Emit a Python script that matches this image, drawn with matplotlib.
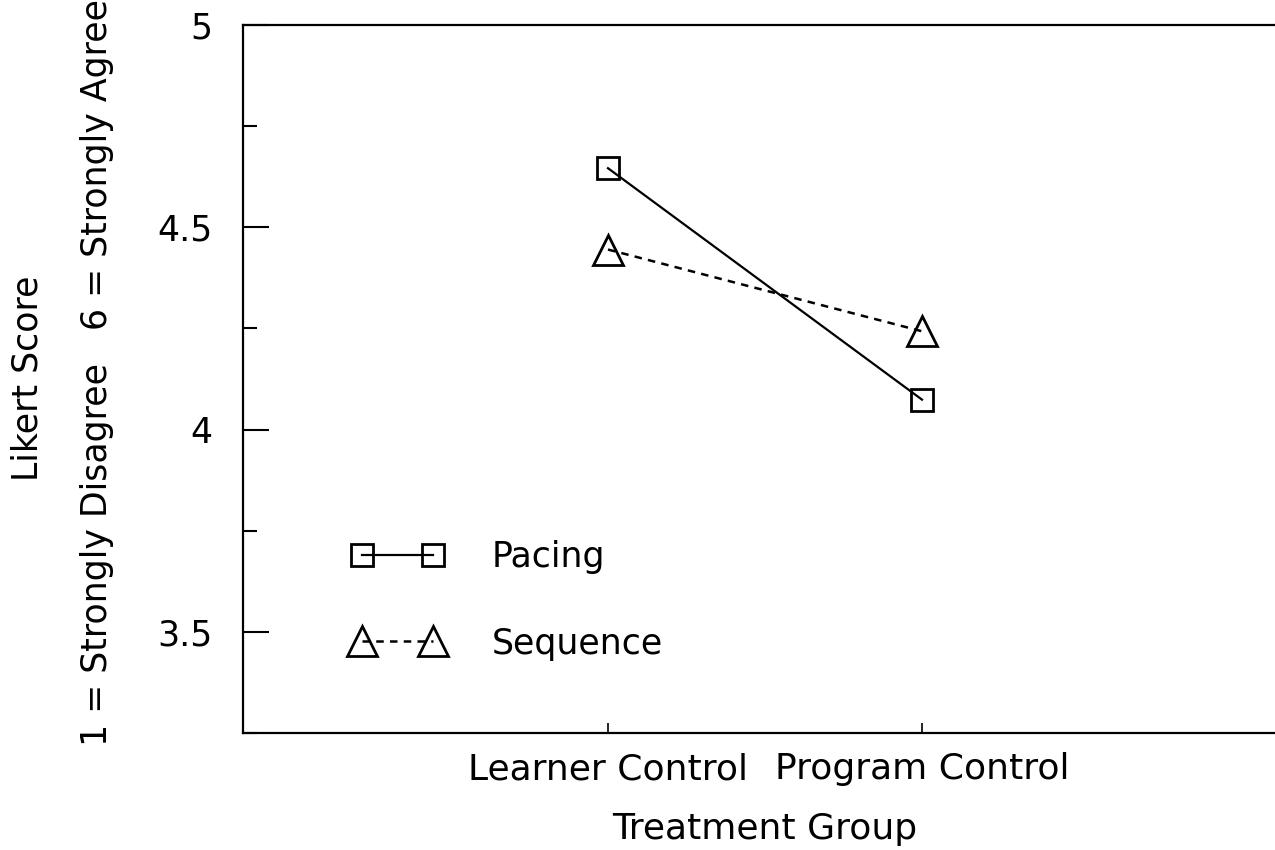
''' Likert score by treatment group: Pacing vs Sequence '''

from matplotlib import pyplot as plt

groups = ["Learner Control", "Program Control"]
pacing = [4.646, 4.074]
sequence = [4.445, 4.243]

plt.rcParams['font.family'] = ['DejaVu Sans']
fs = 25

fig = plt.figure(figsize=(12.75, 8.5), dpi=100)
ax = fig.add_axes([243/1275, 117/850, 0.82, 708/850])

x = [1, 2]
ax.plot(x, pacing, color='black', lw=1.6, marker='s', markersize=16,
        markerfacecolor='none', markeredgewidth=2, label='Pacing')
ax.plot(x, sequence, color='black', lw=1.8, ls=(0, (3, 2.5)), marker='^', markersize=21,
        markerfacecolor='none', markeredgewidth=2, label='Sequence')

ax.set_xlim(1 - 365/314, 1 - 365/314 + 0.82*1275/314)
ax.set_ylim(3.25, 5.0)
ax.set_xticks(x)
ax.set_xticklabels(groups, fontsize=fs + 1)
ax.set_yticks([3.5, 4, 4.5, 5])
ax.set_yticklabels(['3.5', '4', '4.5', '5'], fontsize=fs)
ax.set_yticks([3.25, 3.75, 4.25, 4.75], minor=True)
ax.tick_params(axis='y', which='major', direction='in', length=19, width=1.5, pad=22)
ax.tick_params(axis='y', which='minor', direction='in', length=10, width=1.5)
ax.tick_params(axis='x', direction='in', length=7, width=1.2, pad=14)
for s in ax.spines.values():
    s.set_linewidth(1.6)

fig.text(765/1275, 1 - 829/850, "Treatment Group", fontsize=fs + 1, ha='center', va='center')
fig.text(28/1275, 1 - 378/850, "Likert Score", fontsize=fs, rotation=90, ha='center', va='center')
fig.text(97/1275, 1 - 372/850, "1 = Strongly Disagree   6 = Strongly Agree", fontsize=fs,
         rotation=90, ha='center', va='center')

ax.legend(loc='upper left', bbox_to_anchor=(0.087, 0.297), frameon=False, numpoints=2,
          fontsize=fs, handlelength=2.65, handletextpad=1.4, labelspacing=1.51,
          borderpad=0)

plt.savefig('out.png', dpi=100)
